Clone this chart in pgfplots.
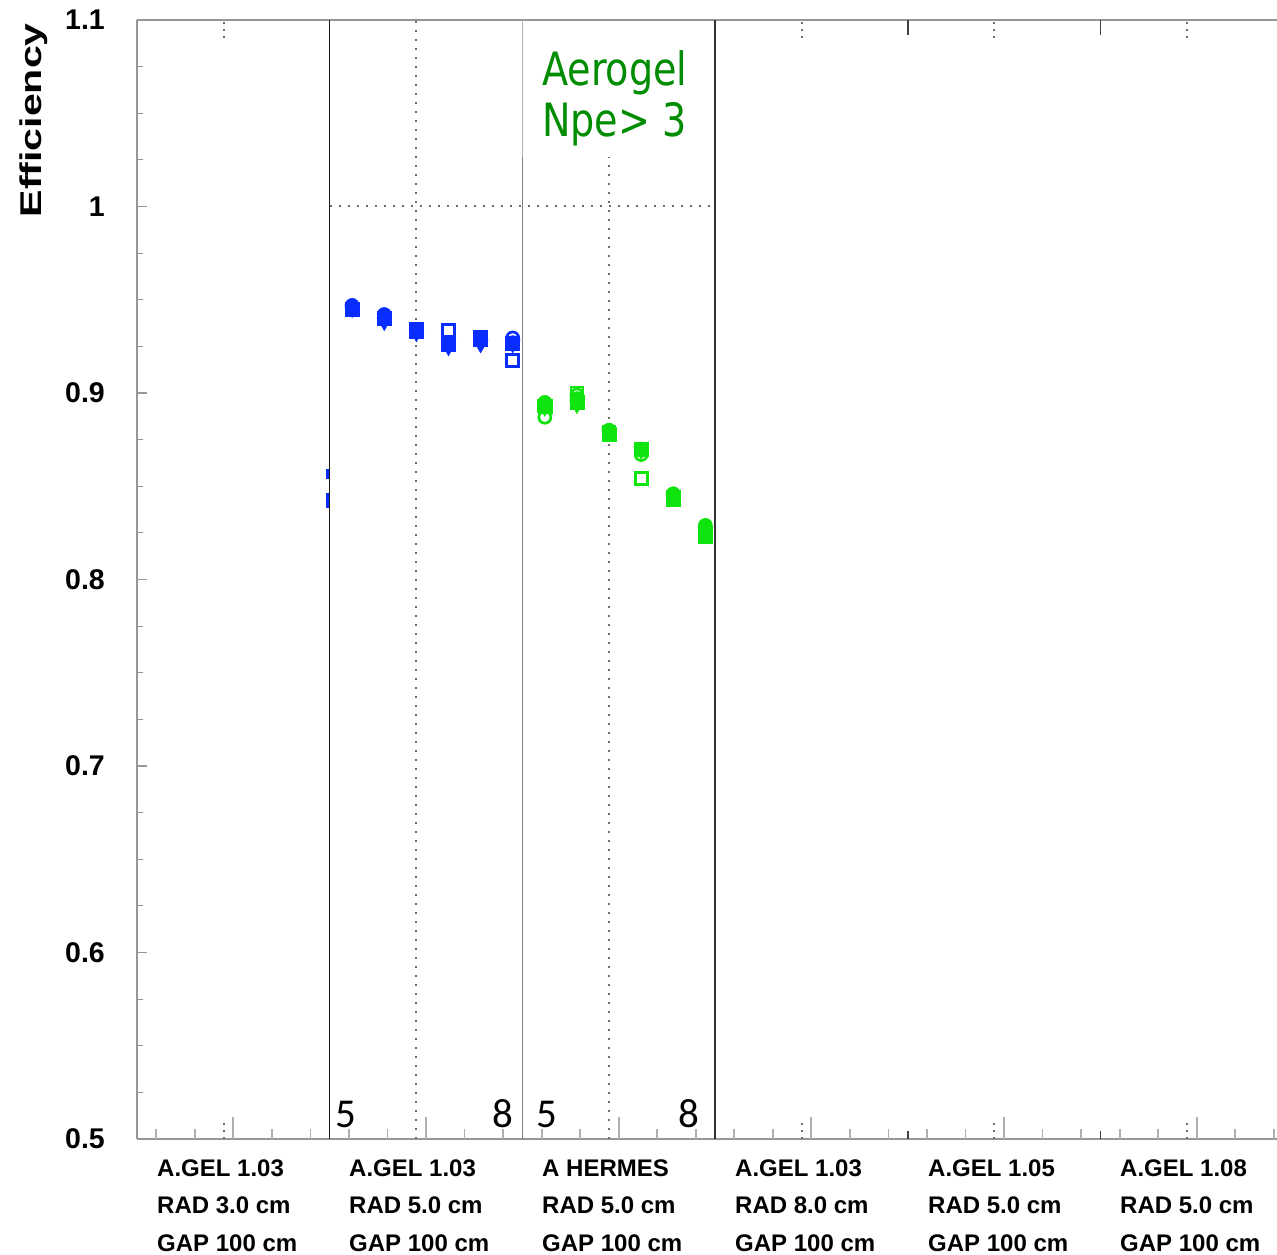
\documentclass[border=0pt]{standalone}
\usepackage{pgfplots}
\pgfplotsset{compat=1.18}
\usepackage{graphicx}
\usepackage{fontspec}
\setmainfont{Liberation Sans}
\newfontfamily\npefont{DejaVu Sans}
\newfontfamily\numfont{Carlito}

\definecolor{mblue}{RGB}{10,45,255}
\definecolor{mgreen}{RGB}{15,228,15}
\definecolor{tgreen}{RGB}{0,140,0}
\definecolor{framegray}{RGB}{150,150,150}
\definecolor{dotgray}{RGB}{110,110,110}
\definecolor{tickgray}{RGB}{175,175,175}

\pgfplotsset{
  fsq/.style={only marks, mark=square*, mark size=7pt, mark options={draw=#1, fill=#1, line width=0.5pt}},
  fci/.style={only marks, mark=*, mark size=7pt, mark options={draw=#1, fill=#1, line width=0.5pt}},
  ftr/.style={only marks, mark=triangle*, mark size=8.5pt, mark options={draw=#1, fill=#1, rotate=180, line width=0.5pt}},
  osq/.style={only marks, mark=square, mark size=6pt, mark options={draw=#1, line width=2.7pt}},
  oci/.style={only marks, mark=o, mark size=6pt, mark options={draw=#1, line width=2.7pt}},
}

\begin{document}
\begin{tikzpicture}[x=1pt,y=1pt]
\path[use as bounding box] (0,0) rectangle (1277,1255);
\begin{axis}[
  at={(137pt,116pt)}, anchor=south west,
  scale only axis, width=1140pt, height=1119pt,
  xmin=0, xmax=35.5, ymin=0.5, ymax=1.1,
  axis x line*=box, axis y line*=left,
  axis line style={framegray, line width=1.5pt},
  xtick=\empty,
  ytick={0.5,0.6,0.7,0.8,0.9,1.0,1.1},
  minor tick num=3,
  tick align=inside,
  major tick length=10pt, minor tick length=6pt,
  every tick/.style={framegray, line width=1.2pt},
  yticklabel style={font=\fontsize{28.5}{28.5}\selectfont\bfseries, inner sep=0pt, xshift=-32pt},
  /pgf/number format/assume math mode=true,
]
% panel separators
\draw[black!90, line width=1.6pt] (6,0.5) -- (6,1.1);
\draw[gray, line width=1.6pt] (12,0.5) -- (12,1.1);
\draw[black!80, line width=1.6pt] (18,0.5) -- (18,1.1);
\pgfplotsinvokeforeach{24,30}{
  \draw[black!75, line width=1.6pt] (#1,1.1) -- (#1,1.092);
  \draw[black!75, line width=1.6pt] (#1,0.5) -- (#1,0.5045);
}
% bottom minor ticks
\pgfplotsinvokeforeach{0.6,1.8,4.2,5.4,6.6,7.8,10.2,11.4,12.6,13.8,16.2,17.4,18.6,19.8,22.2,23.4,24.6,25.8,28.2,29.4,30.6,31.8,34.2,35.4}{
  \draw[tickgray, line width=1.8pt] (#1,0.5) -- (#1,0.5055);
}
\pgfplotsinvokeforeach{3,9,15,21,27,33}{
  \draw[tickgray, line width=1.8pt] (#1,0.5) -- (#1,0.512);
}
% dotted reference lines
\draw[dotgray, line width=2pt, dash pattern=on 2pt off 7pt] (8.7,0.5) -- (8.7,1.1);
\draw[dotgray, line width=2pt, dash pattern=on 2pt off 7pt] (14.7,0.5) -- (14.7,1.0265);
\draw[dotgray, line width=2pt, dash pattern=on 2pt off 7pt] (6,1.0) -- (18,1.0);
\pgfplotsinvokeforeach{2.7,20.7,26.7,32.7}{
  \draw[dotgray, line width=2pt, dash pattern=on 2pt off 5pt] (#1,1.099) -- (#1,1.09);
  \draw[dotgray, line width=2pt, dash pattern=on 2pt off 5pt] (#1,0.5) -- (#1,0.509);
}
% label box
\fill[white] (12.06,1.0265) rectangle (17.95,1.0992);
\draw[gray!60, line width=1.6pt] (12,1.0265) -- (12,1.1);
\node[anchor=base west, text=tgreen, inner sep=0pt] at (12.61,1.0651)
  {\npefont\fontsize{41}{41}\selectfont\scalebox{0.93}[1.12]{Aerogel}};
\node[anchor=base west, text=tgreen, inner sep=0pt] at (12.61,1.0374)
  {\npefont\fontsize{41}{41}\selectfont\scalebox{0.93}[1.12]{Npe> 3}};
% momentum range labels
\node[anchor=base, inner sep=0pt] at (6.51,0.5059) {\numfont\fontsize{41}{41}\selectfont 5};
\node[anchor=base, inner sep=0pt] at (11.39,0.5059) {\numfont\fontsize{41}{41}\selectfont 8};
\node[anchor=base, inner sep=0pt] at (12.76,0.5059) {\numfont\fontsize{41}{41}\selectfont 5};
\node[anchor=base, inner sep=0pt] at (17.18,0.5059) {\numfont\fontsize{41}{41}\selectfont 8};

% A.GEL 1.03, RAD 3.0 cm (edge of panel)
\addplot[only marks, mark=|, mark size=5pt, mark options={draw=mblue, line width=3pt}] coordinates {(5.92,0.8566)};
\addplot[only marks, mark=|, mark size=7.5pt, mark options={draw=mblue, line width=3pt}] coordinates {(5.92,0.8426)};

% A.GEL 1.03, RAD 5.0 cm
\addplot[osq=mblue] coordinates {(6.7,0.945) (7.7,0.940) (8.7,0.934) (9.7,0.9335) (10.7,0.930) (11.7,0.9175)};
\addplot[oci=mblue] coordinates {(6.7,0.946) (7.7,0.942) (8.7,0.934) (9.7,0.926) (10.7,0.929) (11.7,0.9295)};
\addplot[ftr=mblue] coordinates {(6.7,0.945) (7.7,0.938) (8.7,0.932) (9.7,0.9245) (10.7,0.926) (11.7,0.926)};
\addplot[fsq=mblue] coordinates {(6.7,0.945) (7.7,0.940) (8.7,0.933) (9.7,0.926) (10.7,0.929) (11.7,0.9265)};
\addplot[fci=mblue] coordinates {(6.7,0.947) (7.7,0.942) (8.7,0.933) (9.7,0.926) (10.7,0.928) (11.7,0.927)};

% A HERMES, RAD 5.0 cm
\addplot[osq=mgreen] coordinates {(12.7,0.893) (13.7,0.900) (14.7,0.879) (15.7,0.854) (16.7,0.844) (17.7,0.824)};
\addplot[oci=mgreen] coordinates {(12.7,0.887) (13.7,0.899) (14.7,0.880) (15.7,0.867) (16.7,0.845) (17.7,0.829)};
\addplot[ftr=mgreen] coordinates {(12.7,0.892) (13.7,0.8935) (14.7,0.879) (15.7,0.869) (16.7,0.844) (17.7,0.824)};
\addplot[fsq=mgreen] coordinates {(12.7,0.893) (13.7,0.895) (14.7,0.878) (15.7,0.870) (16.7,0.843) (17.7,0.823)};
\addplot[fci=mgreen] coordinates {(12.7,0.895) (13.7,0.897) (14.7,0.880) (15.7,0.870) (16.7,0.846) (17.7,0.828)};
\end{axis}

% y-axis title
\node[rotate=90, anchor=base east, inner sep=0pt] at (41,1232)
  {\fontsize{30}{30}\selectfont\bfseries\scalebox{1.37}[1]{Efficiency}};

% configuration labels under each panel
\foreach \xx/\ga/\ra in {157/A.GEL 1.03/RAD 3.0 cm, 349/A.GEL 1.03/RAD 5.0 cm, 542/A HERMES/RAD 5.0 cm, 735/A.GEL 1.03/RAD 8.0 cm, 928/A.GEL 1.05/RAD 5.0 cm, 1120/A.GEL 1.08/RAD 5.0 cm}{
  \node[anchor=base west, inner sep=0pt, font=\fontsize{24}{24}\selectfont\bfseries] at (\xx,78) {\ga};
  \node[anchor=base west, inner sep=0pt, font=\fontsize{24}{24}\selectfont\bfseries] at (\xx,41) {\ra};
  \node[anchor=base west, inner sep=0pt, font=\fontsize{24}{24}\selectfont\bfseries] at (\xx,3) {GAP 100 cm};
}
\end{tikzpicture}
\end{document}
